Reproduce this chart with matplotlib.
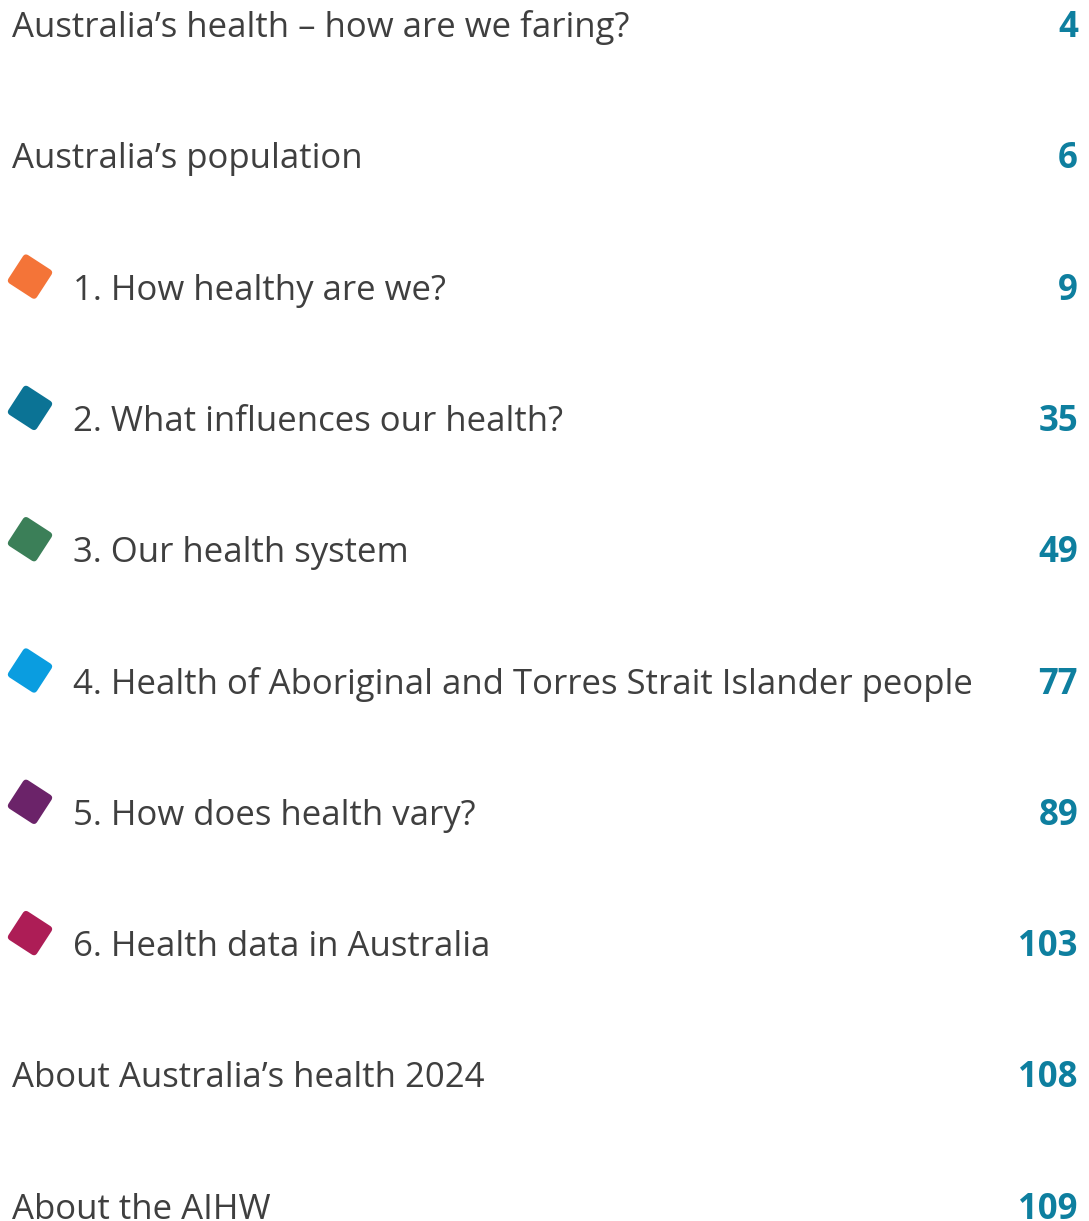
import matplotlib
matplotlib.use("Agg")
import matplotlib.pyplot as plt
from matplotlib.patches import FancyBboxPatch
from matplotlib.transforms import Affine2D

titles = [
    "Australia\u2019s health \u2013 how are we faring?",
    "Australia\u2019s population",
    "1. How healthy are we?",
    "2. What influences our health?",
    "3. Our health system",
    "4. Health of Aboriginal and Torres Strait Islander people",
    "5. How does health vary?",
    "6. Health data in Australia",
    "About Australia\u2019s health 2024",
    "About the AIHW",
]
pages = ["4", "6", "9", "35", "49", "77", "89", "103", "108", "109"]
marker_colors = [None, None, "#f47438", "#0b7395", "#3b7f58", "#0a9de0",
                 "#6b2369", "#ad1d56", None, None]

W, H = 1089, 1221
fig = plt.figure(figsize=(W / 100, H / 100), dpi=100)
ax = fig.add_axes([0, 0, 1, 1])
ax.set_xlim(0, W)
ax.set_ylim(H, 0)
ax.axis("off")

text_col = "#3f3f3f"
page_col = "#0e7f9f"
row_gap = 131.3
first_base = 37

for i, (t, p, c) in enumerate(zip(titles, pages, marker_colors)):
    yb = first_base + i * row_gap
    x = 12 if c is None else 73
    ax.text(x, yb, t, fontsize=25, family="Open Sans", color=text_col,
            va="baseline", ha="left")
    ax.text(1078, yb, p, fontsize=25, family="Open Sans", fontweight="bold",
            color=page_col, va="baseline", ha="right")
    if c is not None:
        cx, cy = 30, yb - 23
        s = 34
        box = FancyBboxPatch((cx - s / 2, cy - s / 2), s, s,
                             boxstyle="round,pad=0,rounding_size=4",
                             facecolor=c, edgecolor="none")
        box.set_transform(Affine2D().rotate_deg_around(cx, cy, 33) + ax.transData)
        ax.add_patch(box)

fig.savefig("out.png", dpi=100)
